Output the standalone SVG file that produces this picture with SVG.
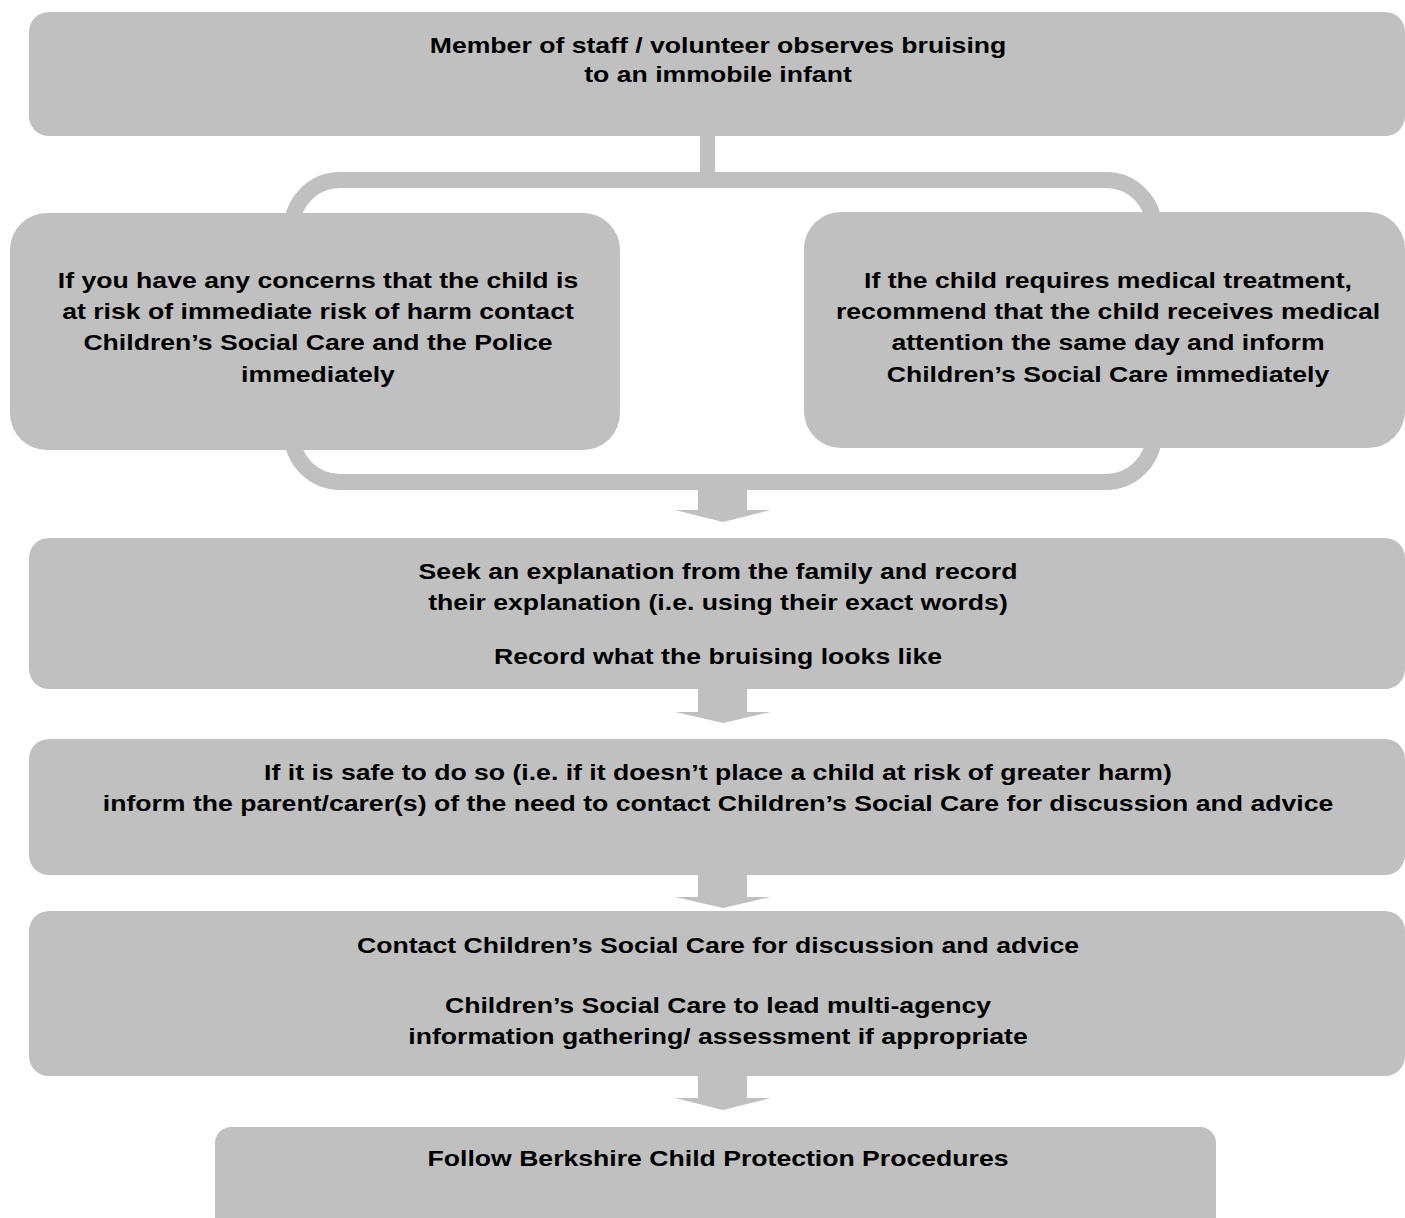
<svg xmlns="http://www.w3.org/2000/svg" width="1405" height="1218" viewBox="0 0 1405 1218">
<style>
.box{fill:#c0c0c0}
.conn{fill:#c0c0c0}
.loop{fill:none;stroke:#c0c0c0;stroke-width:16}
text{font-family:"Liberation Sans",Arial,sans-serif;font-weight:bold;font-size:22px;fill:#000;text-anchor:middle}
</style>
<rect width="1405" height="1218" fill="#fff"/>
<g id="connectors">
<rect class="conn" x="700" y="134" width="15" height="40"/>
<rect class="loop" x="292" y="180" width="862" height="302" rx="48" ry="48"/>
<polygon class="conn" points="698,488 747,488 747,510 771,510 723,522 675,510 698,510"/>
<polygon class="conn" points="698,687 747,687 747,712 771,712 723,723 675,712 698,712"/>
<polygon class="conn" points="698,873 747,873 747,897 771,897 723,908 675,897 698,897"/>
<polygon class="conn" points="698,1074 747,1074 747,1098 771,1098 723,1110 675,1098 698,1098"/>
</g>
<g id="n1">
<rect class="box" x="29" y="12" width="1376" height="124" rx="20"/>
<g transform="translate(718,0) scale(1.21,1)">
<text x="0" y="53">Member of staff / volunteer observes bruising</text>
<text x="0" y="82">to an immobile infant</text>
</g>
</g>
<g id="n2">
<rect class="box" x="10" y="213" width="610" height="237" rx="37"/>
<g transform="translate(318,0) scale(1.21,1)">
<text x="0" y="288">If you have any concerns that the child is</text>
<text x="0" y="319">at risk of immediate risk of harm contact</text>
<text x="0" y="350">Children’s Social Care and the Police</text>
<text x="0" y="382">immediately</text>
</g>
</g>
<g id="n3">
<rect class="box" x="804" y="212" width="601" height="236" rx="37"/>
<g transform="translate(1108,0) scale(1.21,1)">
<text x="0" y="288">If the child requires medical treatment,</text>
<text x="0" y="319">recommend that the child receives medical</text>
<text x="0" y="350">attention the same day and inform</text>
<text x="0" y="382">Children’s Social Care immediately</text>
</g>
</g>
<g id="n4">
<rect class="box" x="29" y="538" width="1376" height="151" rx="20"/>
<g transform="translate(718,0) scale(1.21,1)">
<text x="0" y="579">Seek an explanation from the family and record</text>
<text x="0" y="610">their explanation (i.e. using their exact words)</text>
<text x="0" y="664">Record what the bruising looks like</text>
</g>
</g>
<g id="n5">
<rect class="box" x="29" y="739" width="1376" height="136" rx="20"/>
<g transform="translate(718,0) scale(1.21,1)">
<text x="0" y="780">If it is safe to do so (i.e. if it doesn’t place a child at risk of greater harm)</text>
<text x="0" y="811">inform the parent/carer(s) of the need to contact Children’s Social Care for discussion and advice</text>
</g>
</g>
<g id="n6">
<rect class="box" x="29" y="911" width="1376" height="165" rx="20"/>
<g transform="translate(718,0) scale(1.21,1)">
<text x="0" y="953">Contact Children’s Social Care for discussion and advice</text>
<text x="0" y="1013">Children’s Social Care to lead multi-agency</text>
<text x="0" y="1044">information gathering/ assessment if appropriate</text>
</g>
</g>
<g id="n7">
<rect class="box" x="215" y="1127" width="1001" height="120" rx="16"/>
<g transform="translate(718,0) scale(1.21,1)">
<text x="0" y="1166">Follow Berkshire Child Protection Procedures</text>
</g>
</g>
</svg>
